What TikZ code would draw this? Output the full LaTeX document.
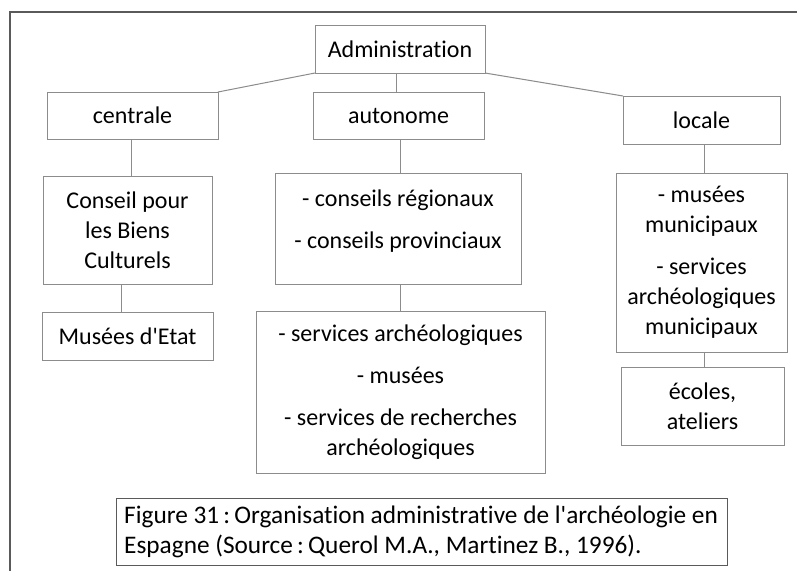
\documentclass[tikz,border=0pt]{standalone}
\usepackage{fontspec}
\setmainfont{Carlito}[Ligatures={TeXOff,NoCommon}]
\definecolor{boxgray}{HTML}{8C8C8C}
\definecolor{framegray}{HTML}{5A5A5A}
\begin{document}
\begin{tikzpicture}[x=1pt,y=-1pt,
  box/.style={draw=boxgray, line width=1pt, inner sep=0pt, outer sep=0pt, align=center,
    font=\fontsize{24}{30}\selectfont},
  txt/.style={inner sep=0pt, align=center, font=\fontsize{24}{30}\selectfont},
  link/.style={draw=boxgray, line width=1pt}]
\useasboundingbox (0,0) rectangle (797,570);
\fill[white] (0,0) rectangle (797,570);
% outer frame (only top and left visible)
\draw[framegray, line width=1.5pt] (10,571) -- (10,12) -- (798,12);

\node[box, minimum width=170pt, minimum height=48pt] (admin) at (400,49) {Administration};
\node[box, minimum width=171pt, minimum height=47pt] (centrale) at (132.5,115.5) {centrale};
\node[box, minimum width=171pt, minimum height=47pt] (autonome) at (398.5,115.5) {autonome};
\node[box, minimum width=157pt, minimum height=48pt] (locale) at (701.5,120) {locale};

\node[box, minimum width=169pt, minimum height=108pt] (conseil) at (127.5,230) {Conseil pour\\les Biens\\Culturels};
\node[box, minimum width=246pt, minimum height=111pt] (regional) at (398,228.5) {};
\node[txt] (regtxt) at (398,221) {- conseils régionaux\\[12pt]- conseils provinciaux};
\node[box, minimum width=171pt, minimum height=179pt] (munic) at (701.5,262.5) {- musées\\municipaux\\[12pt]- services\\archéologiques\\municipaux};

\node[box, minimum width=171pt, minimum height=48pt] (etat) at (127.5,336) {Musées d'Etat};
\node[box, minimum width=289pt, minimum height=162pt] (services) at (400.5,392) {- services archéologiques\\[12pt]- musées\\[12pt]- services de recherches\\archéologiques};
\node[box, minimum width=163pt, minimum height=78pt] (ecoles) at (702.5,406) {écoles,\\ateliers};

\node[draw=framegray, line width=1pt, minimum width=611pt, minimum height=67pt, inner sep=0pt] (caption) at (421.5,531.5) {};
\node[anchor=west, inner sep=0pt, align=left, font=\fontsize{25.3}{30}\selectfont] (captxt) at (124,532)
  {Figure 31\,:\,Organisation administrative de l'archéologie en\\Espagne (Source\,:\,Querol M.A., Martinez B., 1996).};

% connectors
\draw[link] (admin.south west) -- (centrale.north east);
\draw[link] ([xshift=-4pt]admin.south) -- ([xshift=-4pt]admin.south |- autonome.north);
\draw[link] (admin.south east) -- (locale.north west);
\draw[link] ([xshift=-1.5pt]centrale.south) -- ([xshift=-1.5pt]centrale.south |- conseil.north);
\draw[link] ([xshift=1.5pt]autonome.south) -- ([xshift=1.5pt]autonome.south |- regional.north);
\draw[link] ([xshift=2.5pt]locale.south) -- ([xshift=2.5pt]locale.south |- munic.north);
\draw[link] ([xshift=-6.5pt]conseil.south) -- ([xshift=-6.5pt]conseil.south |- etat.north);
\draw[link] ([xshift=2pt]regional.south) -- ([xshift=2pt]regional.south |- services.north);
\draw[link] ([xshift=3pt]munic.south) -- ([xshift=3pt]munic.south |- ecoles.north);
\end{tikzpicture}
\end{document}
